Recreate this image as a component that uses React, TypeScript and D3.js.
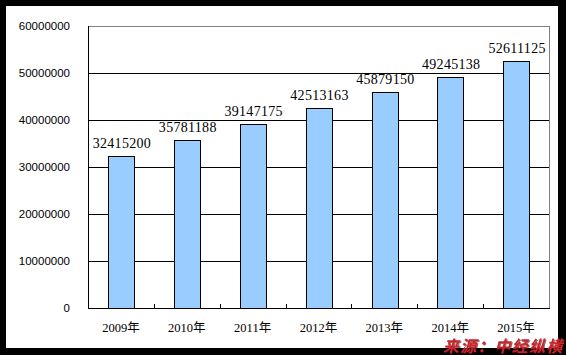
import React from 'react';
import * as d3 from 'd3';

const years = ['2009年', '2010年', '2011年', '2012年', '2013年', '2014年', '2015年'];
const values = [32415200, 35781188, 39147175, 42513163, 45879150, 49245138, 52611125];
const yTicks = [0, 10000000, 20000000, 30000000, 40000000, 50000000, 60000000];

const W = 566;
const H = 355;
const plot = { left: 88, top: 26, right: 549, bottom: 308 };

export default function App() {
  const x = d3.scaleBand<string>()
    .domain(years)
    .range([plot.left, plot.right])
    .paddingInner(0.61)
    .paddingOuter(0.305);

  const step = (plot.right - plot.left) / years.length;

  const y = d3.scaleLinear()
    .domain([0, 60000000])
    .range([plot.bottom, plot.top]);

  const serif = '"Liberation Serif", "Noto Sans CJK SC", serif';
  const sans = '"Liberation Sans", Arial, sans-serif';

  return (
    <svg width={W} height={H} style={{ position: 'absolute', left: 0, top: 0 }}>
      <defs>
        <filter id="wmShadow" x="-5%" y="-20%" width="110%" height="140%">
          <feDropShadow dx={1} dy={1} stdDeviation={0.4} floodColor="#3a0a0a" floodOpacity={0.6} />
        </filter>
      </defs>
      <rect x={0} y={0} width={W} height={H} fill="#000" />
      <rect x={6} y={6} width={552} height={342} fill="#fff" />

      {/* gridlines */}
      {yTicks.slice(1, -1).map(t => (
        <line key={t} x1={plot.left} x2={plot.right} y1={y(t) + 0.5} y2={y(t) + 0.5} stroke="#000" />
      ))}
      {/* plot frame top/right gray */}
      <line x1={plot.left} x2={plot.right + 0.5} y1={plot.top + 0.5} y2={plot.top + 0.5} stroke="#808080" />
      <line x1={plot.right + 0.5} x2={plot.right + 0.5} y1={plot.top} y2={plot.bottom} stroke="#808080" />

      {/* bars */}
      {years.map((yr, i) => (
        <rect
          key={yr}
          x={Math.round(x(yr)!) + 0.5}
          y={Math.round(y(values[i])) + 0.5}
          width={Math.round(x.bandwidth())}
          height={plot.bottom - Math.round(y(values[i]))}
          fill="#99CCFF"
          stroke="#000"
        />
      ))}

      {/* axes */}
      <line x1={plot.left + 0.5} x2={plot.left + 0.5} y1={plot.top} y2={plot.bottom + 1} stroke="#000" />
      <line x1={plot.left} x2={plot.right + 1} y1={plot.bottom + 0.5} y2={plot.bottom + 0.5} stroke="#000" />
      {d3.range(1, years.length).map(i => (
        <line
          key={i}
          x1={Math.round(plot.left + i * step) + 0.5}
          x2={Math.round(plot.left + i * step) + 0.5}
          y1={plot.bottom - 4}
          y2={plot.bottom}
          stroke="#000"
        />
      ))}

      {/* y tick labels */}
      {yTicks.map(t => (
        <text key={t} x={70} y={y(t) + 4} textAnchor="end" fontFamily={sans} fontSize={11.5} fill="#000">
          {t}
        </text>
      ))}

      {/* category labels */}
      {years.map(yr => (
        <text key={yr} x={x(yr)! + x.bandwidth() / 2} y={332} textAnchor="middle" fontFamily={serif} fontSize={12.5} fill="#000">
          {yr}
        </text>
      ))}

      {/* value labels */}
      {years.map((yr, i) => (
        <text
          key={yr}
          x={x(yr)! + x.bandwidth() / 2 + 1}
          y={y(values[i]) - 8}
          textAnchor="middle"
          fontFamily={serif}
          fontSize={14}
          letterSpacing={0.3}
          fill="#000"
        >
          {values[i]}
        </text>
      ))}

      {/* watermark */}
      <text
        x={443}
        y={351.5}
        fontFamily='"Noto Sans CJK SC", sans-serif'
        fontSize={16}
        letterSpacing={1.2}
        fontWeight="bold"
        fontStyle="italic"
        fill="#CC2229"
        filter="url(#wmShadow)"
      >
        来源：中经纵横
      </text>
    </svg>
  );
}
